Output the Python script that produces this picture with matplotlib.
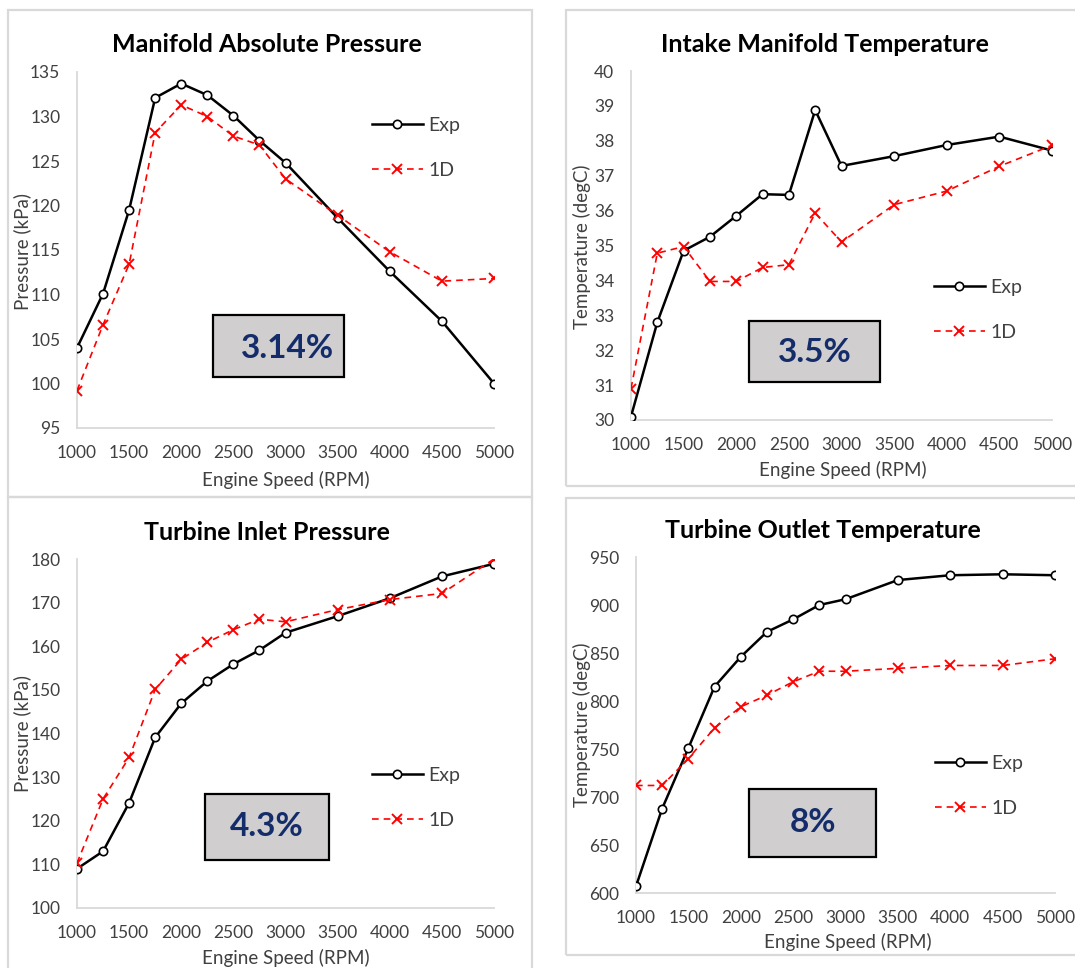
import numpy as np
import matplotlib
matplotlib.use("Agg")
import matplotlib.pyplot as plt
from matplotlib.patches import Rectangle

plt.rcParams['font.family'] = ['Lato', 'DejaVu Sans']

# engine speed points
rpm = [1000, 1250, 1500, 1750, 2000, 2250, 2500, 2750, 3000, 3500, 4000, 4500, 5000]

# manifold absolute pressure (kPa)
map_exp = [104.0, 110.1, 119.5, 132.1, 133.7, 132.4, 130.1, 127.3, 124.8, 118.6, 112.6, 107.0, 100.0]
map_1d = [99.2, 106.6, 113.4, 128.2, 131.3, 130.0, 127.8, 126.8, 123.0, 118.9, 114.8, 111.5, 111.8]

# intake manifold temperature (degC)
imt_exp = [30.1, 32.8, 34.85, 35.25, 35.85, 36.47, 36.45, 38.88, 37.28, 37.56, 37.88, 38.12, 37.72]
imt_1d = [30.9, 34.78, 34.97, 33.97, 33.97, 34.37, 34.45, 35.93, 35.1, 36.17, 36.56, 37.27, 37.87]

# turbine inlet pressure (kPa)
tip_exp = [109.0, 113.0, 124.1, 139.1, 146.9, 152.0, 155.9, 159.1, 163.1, 166.9, 171.0, 176.0, 178.9]
tip_1d = [110.3, 125.0, 134.5, 150.1, 157.0, 160.9, 163.8, 166.2, 165.6, 168.4, 170.7, 172.1, 180.0]

# turbine outlet temperature (degC)
tot_exp = [607, 688, 751, 815, 846, 872, 885, 900, 906, 926, 931, 932, 931]
tot_1d = [712, 712, 740, 772, 794, 806, 820, 831, 831, 834, 837, 837, 844]

x_ticks = [1000, 1500, 2000, 2500, 3000, 3500, 4000, 4500, 5000]

W, H = 1075, 968


def fx(x):
    return x / W


def fy(y):
    return 1 - y / H


fig = plt.figure(figsize=(W / 100, H / 100), dpi=100)

# panels: data, labels, pixel layout
panels = [
    dict(exp=map_exp, d1=map_1d, title='Manifold Absolute Pressure', ylabel='Pressure (kPa)',
         ylim=(95, 135), ystep=5, ax=(77, 494, 72, 428), frame=(8, 10, 532, 497),
         title_xy=(267, 45), ylab_xy=(22, 252), xlab_xy=(286, 480),
         box=(213, 315, 344, 377), err='3.14%', err_xy=(287, 349),
         leg=(372, 148)),
    dict(exp=imt_exp, d1=imt_1d, title='Intake Manifold Temperature', ylabel='Temperature (degC)',
         ylim=(30, 40), ystep=1, ax=(631, 1052, 71, 420), frame=(566, 10, 1090, 486),
         title_xy=(825, 45), ylab_xy=(582, 247), xlab_xy=(843, 470),
         box=(749, 321, 880, 382), err='3.5%', err_xy=(815, 353),
         leg=(934, 310)),
    dict(exp=tip_exp, d1=tip_1d, title='Turbine Inlet Pressure', ylabel='Pressure (kPa)',
         ylim=(100, 180), ystep=10, ax=(77, 494, 559, 908), frame=(8, 497, 532, 990),
         title_xy=(267, 533), ylab_xy=(22, 733), xlab_xy=(286, 958),
         box=(205, 794, 329, 860), err='4.3%', err_xy=(267, 827),
         leg=(372, 798)),
    dict(exp=tot_exp, d1=tot_1d, title='Turbine Outlet Temperature', ylabel='Temperature (degC)',
         ylim=(600, 950), ystep=50, ax=(636, 1055, 557, 893), frame=(566, 498, 1090, 955),
         title_xy=(823, 531), ylab_xy=(582, 725), xlab_xy=(848, 942),
         box=(749, 789, 876, 857), err='8%', err_xy=(813, 822),
         leg=(935, 786)),
]

grey = '#d9d9d9'
tick_col = '#404040'
navy = '#142d6a'

for p in panels:
    l, r, t, b = p['ax']
    ax = fig.add_axes([fx(l), fy(b), (r - l) / W, (b - t) / H])

    # outer chart frame
    x0, y0, x1, y1 = p['frame']
    fig.add_artist(Rectangle((fx(x0), fy(y1)), (x1 - x0) / W, (y1 - y0) / H,
                             transform=fig.transFigure, fill=False, edgecolor=grey, lw=1.6,
                             clip_on=False))

    ax.plot(rpm, p['exp'], color='black', lw=1.8, marker='o', ms=6, mfc='white', mec='black',
            mew=1.2, label='Exp', zorder=3)
    ax.plot(rpm, p['d1'], color='#ff0000', lw=1.2, ls=(0, (4, 3)), marker='x', ms=7, mew=1.4,
            label='1D', zorder=4)

    ax.set_xlim(1000, 5000)
    ax.set_ylim(*p['ylim'])
    ax.set_xticks(x_ticks)
    ax.set_yticks(np.arange(p['ylim'][0], p['ylim'][1] + p['ystep'] / 2, p['ystep']))
    ax.tick_params(axis='both', length=0, labelsize=12.5, labelcolor=tick_col)
    ax.tick_params(axis='x', pad=12)
    ax.tick_params(axis='y', pad=12)
    for s in ['top', 'right']:
        ax.spines[s].set_visible(False)
    for s in ['left', 'bottom']:
        ax.spines[s].set_color(grey)
        ax.spines[s].set_linewidth(1.3)
    ax.set_facecolor('none')

    fig.text(fx(p['title_xy'][0]), fy(p['title_xy'][1]), p['title'], ha='center', va='center',
             fontsize=18, fontweight='bold', color='black')
    fig.text(fx(p['ylab_xy'][0]), fy(p['ylab_xy'][1]), p['ylabel'], ha='center', va='center',
             rotation=90, fontsize=13.5, color=tick_col)
    fig.text(fx(p['xlab_xy'][0]), fy(p['xlab_xy'][1]), 'Engine Speed (RPM)', ha='center',
             va='center', fontsize=13.5, color=tick_col)

    # error box
    bx0, by0, bx1, by1 = p['box']
    fig.add_artist(Rectangle((fx(bx0), fy(by1)), (bx1 - bx0) / W, (by1 - by0) / H,
                             transform=fig.transFigure, facecolor='#d0cece', edgecolor='black',
                             lw=1.6))
    fig.text(fx(p['err_xy'][0]), fy(p['err_xy'][1]), p['err'], ha='center', va='center',
             fontsize=24, fontweight='bold', color=navy)

    ax.legend(loc='center left', bbox_to_anchor=(fx(p['leg'][0]), fy(p['leg'][1])),
              bbox_transform=fig.transFigure, frameon=False, fontsize=14, borderpad=0,
              borderaxespad=0, handlelength=2.6, handletextpad=0.3, labelspacing=1.45,
              labelcolor=tick_col)

fig.savefig('out.png', dpi=100)
